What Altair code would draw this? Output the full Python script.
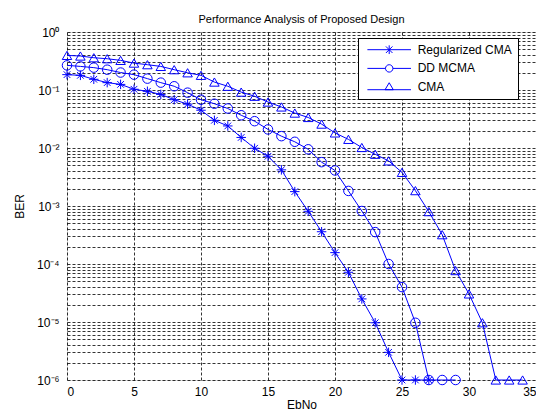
import altair as alt
import pandas as pd

series_names = ["Regularized CMA", "DD MCMA", "CMA"]

reg_cma = [0.184, 0.179, 0.153, 0.134, 0.125, 0.103, 0.095, 0.084, 0.068, 0.057,
           0.0448, 0.030, 0.024, 0.0152, 0.0099, 0.0072, 0.0042, 0.00177, 8.1e-4, 3.6e-4,
           1.57e-4, 7.2e-5, 2.5e-5, 9.7e-6, 3.0e-6, 1e-6, 1e-6, 1e-6]
dd_mcma = [0.266, 0.255, 0.243, 0.224, 0.2, 0.184, 0.157, 0.134, 0.116, 0.090,
           0.068, 0.058, 0.048, 0.0367, 0.029, 0.0209, 0.016, 0.0128, 0.0095, 0.0057,
           0.0041, 0.00182, 8.2e-4, 3.55e-4, 1.0e-4, 4.0e-5, 9.7e-6, 1e-6, 1e-6, 1e-6]
cma = [0.395, 0.385, 0.36, 0.346, 0.324, 0.291, 0.273, 0.255, 0.224, 0.198,
       0.179, 0.137, 0.116, 0.092, 0.078, 0.062, 0.051, 0.040, 0.0336, 0.0258,
       0.0182, 0.0141, 0.0102, 0.0078, 0.006, 0.0038, 0.00184, 8e-4, 3.2e-4, 7.7e-5,
       3.05e-5, 9.7e-6, 1e-6, 1e-6, 1e-6]

x_ticks = [0, 5, 10, 15, 20, 25, 30, 35]
y_labels = ["10⁰", "10⁻¹", "10⁻²", "10⁻³", "10⁻⁴", "10⁻⁵", "10⁻⁶"]

rows = []
for name, vals in zip(series_names, [reg_cma, dd_mcma, cma]):
    for i, v in enumerate(vals):
        rows.append({"EbNo": i, "BER": v, "series": name})
df = pd.DataFrame(rows)

# grid values: decades and minor 2..9 multiples
y_grid = []
for e in range(0, 6):
    base = 10.0 ** (-e - 1)
    for m in range(1, 10):
        y_grid.append(round(base * m, 12))
y_grid.append(1.0)

BLUE = "#0000ff"
FONT = "Liberation Sans"

star = "M-1,0L1,0M0,-1L0,1M-0.7,-0.7L0.7,0.7M-0.7,0.7L0.7,-0.7"
marker_shapes = [star, "circle", "triangle-up"]

leg_star = ("M-1,0H1M0,-0.2V0.2M-0.15,-0.15L0.15,0.15M-0.15,0.15L0.15,-0.15")
leg_circle = ("M-1,0H-0.17M0.17,0H1M-0.17,0A0.17,0.17 0 1,1 0.17,0"
              "A0.17,0.17 0 1,1 -0.17,0")
leg_tri = "M-1,0.12H1M-0.19,0.12L0,-0.2L0.19,0.12Z"
legend_shapes = [leg_star, leg_circle, leg_tri]

label_list = "[" + ",".join("'" + s + "'" for s in y_labels) + "]"
label_expr = ("abs(log(datum.value)/LN10 - round(log(datum.value)/LN10)) < 1e-6 ? "
              + label_list + "[-round(log(datum.value)/LN10)] : ''")

x_enc = alt.X("EbNo:Q",
              scale=alt.Scale(domain=[0, 35], nice=False),
              axis=alt.Axis(values=x_ticks, title="EbNo", grid=True, ticks=False,
                            gridDash=[3, 2], gridColor="#000000", gridOpacity=1,
                            gridWidth=0.8,
                            labelFont=FONT, labelFontSize=12, labelColor="#000",
                            titleFont=FONT, titleFontSize=12, titleFontWeight="normal",
                            titleColor="#000", labelPadding=6, titlePadding=2,
                            domain=False))
y_enc = alt.Y("BER:Q",
              scale=alt.Scale(type="log", domain=[1e-6, 1], nice=False),
              axis=alt.Axis(values=y_grid, title="BER", grid=True, ticks=False,
                            labelExpr=label_expr, gridDash=[3, 2], gridColor="#000000",
                            gridOpacity=1, gridWidth=0.8,
                            labelFont=FONT, labelFontSize=12,
                            labelColor="#000", titleFont=FONT, titleFontSize=12,
                            titleFontWeight="normal", titleColor="#000",
                            labelPadding=8, titlePadding=10, domain=False,
                            labelOverlap=False))

base = alt.Chart(df)

lines = base.mark_line(strokeWidth=1, color=BLUE).encode(
    x=x_enc, y=y_enc,
    detail="series:N",
)

points = base.mark_point(filled=False, size=90, strokeWidth=1, color=BLUE, opacity=1).encode(
    x=x_enc, y=y_enc,
    shape=alt.Shape("series:N", scale=alt.Scale(domain=series_names, range=marker_shapes),
                    legend=None),
)

legend_layer = base.transform_filter("datum.BER < 0").mark_point(
    filled=False, strokeWidth=1, color=BLUE, opacity=1
).encode(
    x=x_enc, y=y_enc,
    shape=alt.Shape("series:N",
                    scale=alt.Scale(domain=series_names, range=legend_shapes),
                    legend=alt.Legend(title=None, orient="none", legendX=291, legendY=6,
                                      symbolSize=1900, symbolStrokeColor=BLUE,
                                      symbolFillColor="transparent",
                                      symbolStrokeWidth=1, symbolOffset=3,
                                      clipHeight=12, rowPadding=6.7,
                                      labelFont=FONT, labelFontSize=12, labelColor="#000",
                                      labelOffset=6, strokeColor="#000", fillColor="#fff",
                                      padding=5.7, labelLimit=300)),
)

chart = alt.layer(lines, points, legend_layer).resolve_scale(
    shape="independent"
).properties(
    width=469, height=348,
    title=alt.Title("Performance Analysis of Proposed Design", font=FONT, fontSize=11,
                    fontWeight="normal", color="#000", offset=1),
    autosize=alt.AutoSizeParams(type="none"),
    padding={"left": 59, "top": 24, "right": 0, "bottom": 31},
).configure_view(stroke="#000", strokeWidth=1.2).configure(background="#fff")

chart.save("out.html", embed_options={"renderer": "svg", "actions": False})
